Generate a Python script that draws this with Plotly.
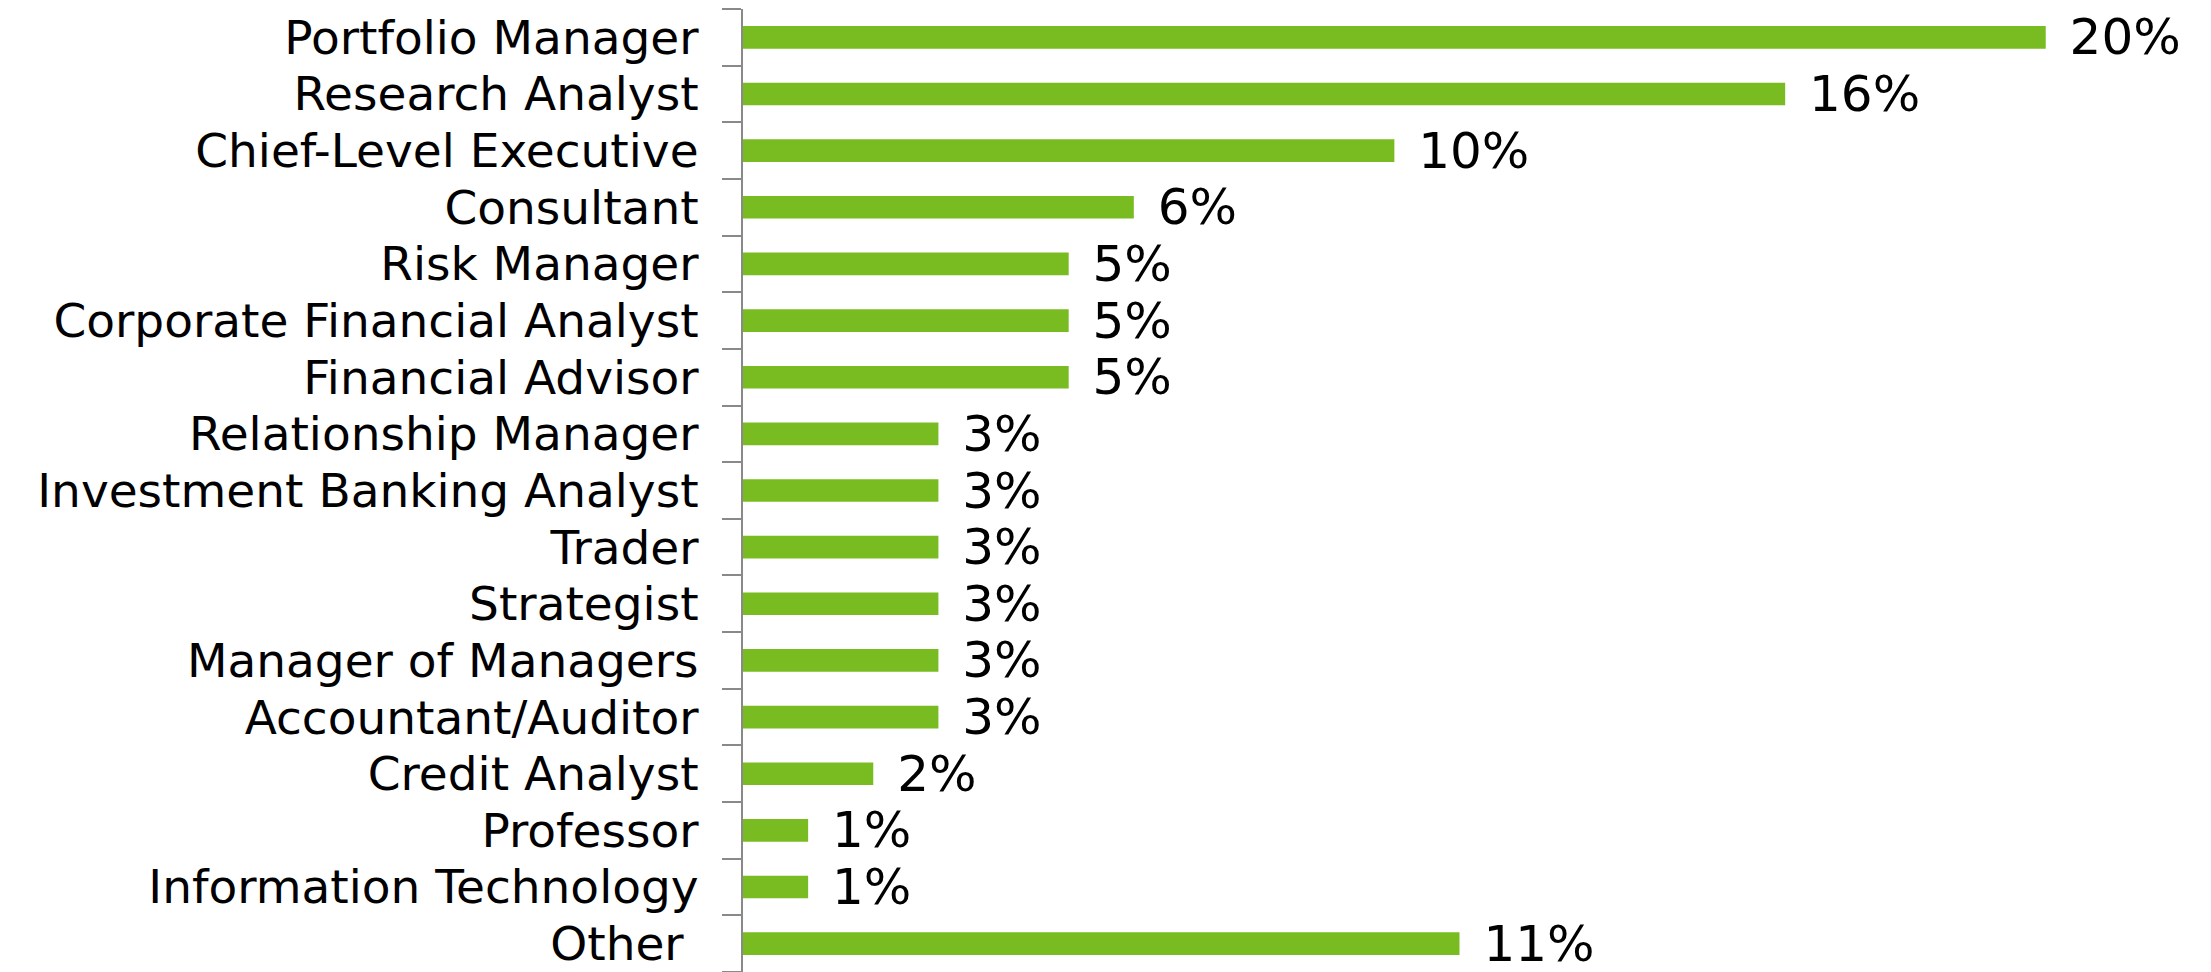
import plotly.graph_objects as go

categories = [
    "Portfolio Manager", "Research Analyst", "Chief-Level Executive", "Consultant",
    "Risk Manager", "Corporate Financial Analyst", "Financial Advisor",
    "Relationship Manager", "Investment Banking Analyst", "Trader", "Strategist",
    "Manager of Managers", "Accountant/Auditor", "Credit Analyst", "Professor",
    "Information Technology", "Other\u00a0",
]
values = [20, 16, 10, 6, 5, 5, 5, 3, 3, 3, 3, 3, 3, 2, 1, 1, 11]
value_labels = ["\u00a0\u200a" + f"{v}%" for v in values]

FONT = "DejaVu Sans, Liberation Sans, Arial, sans-serif"

fig = go.Figure(go.Bar(
    x=values,
    y=categories,
    orientation="h",
    marker=dict(color="#78BC21", line=dict(width=0)),
    width=0.4,
    text=value_labels,
    textposition="outside",
    constraintext="none",
    textfont=dict(family=FONT, size=50, color="#000000"),
    cliponaxis=False,
    hoverinfo="skip",
))

# page body has an 8px default margin, so the figure is sized 8px smaller
fig.update_layout(
    width=2203, height=964,
    margin=dict(l=735, r=35, t=1, b=0, autoexpand=False),
    paper_bgcolor="white", plot_bgcolor="white",
    showlegend=False,
    font=dict(family=FONT, size=47, color="#000000"),
)
fig.update_xaxes(range=[0, 22], visible=False, showgrid=False, zeroline=False)
fig.update_yaxes(
    type="category",
    categoryorder="array", categoryarray=categories,
    tickmode="array", tickvals=categories, ticktext=categories,
    autorange="reversed", automargin=False,
    showgrid=False, zeroline=False,
    showline=True, linecolor="#898989", linewidth=2,
    ticks="outside", tickson="boundaries", ticklen=19, tickcolor="#898989", tickwidth=2,
    ticklabelstandoff=33,
    tickfont=dict(family=FONT, size=47, color="#000000"),
)

fig.write_html("out.html")
